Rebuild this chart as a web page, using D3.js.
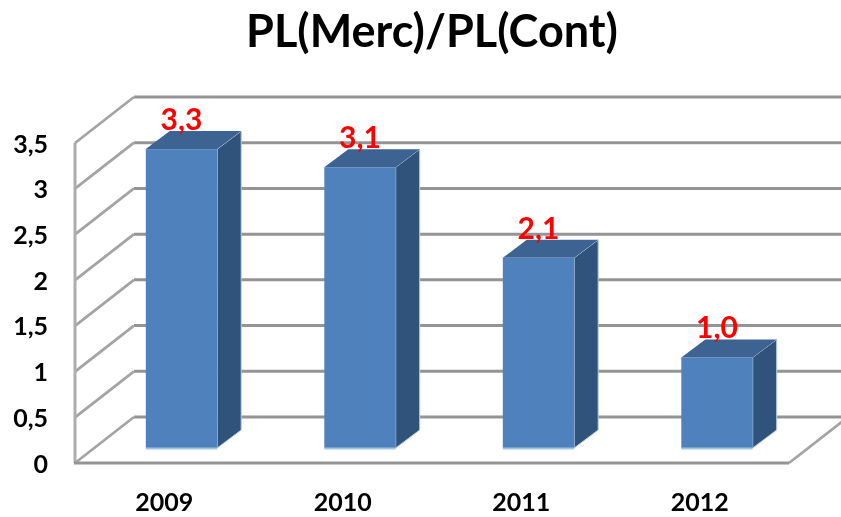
<!DOCTYPE html>
<html>
<head>
<meta charset="utf-8">
<script src="https://cdn.jsdelivr.net/npm/d3@7"></script>
<style>
  html, body { margin: 0; padding: 0; background: #fff; }
  svg { display: block; filter: blur(0.7px); }
  text { font-family: Lato, "Open Sans", sans-serif; }
  .axis path, .axis line { display: none; }
  .axis text { font-size: 25px; font-weight: 700; fill: #000; }
</style>
</head>
<body>
<script>
var years = ["2009", "2010", "2011", "2012"];
var ratios = [3.3, 3.1, 2.1, 1.0];
var yTicks = [0, 0.5, 1, 1.5, 2, 2.5, 3, 3.5];
var chartTitle = "PL(Merc)/PL(Cont)";

var w = 841, h = 517;
var depthX = 59, depthY = -46;     // floor depth, front edge to back wall
var barDepthX = 24, barDepthY = -18;

var svg = d3.select("body").append("svg")
  .attr("width", w)
  .attr("height", h);

var comma = d3.formatLocale({ decimal: ",", thousands: ".", grouping: [3], currency: ["", ""] });

var xScale = d3.scaleBand()
  .domain(years)
  .range([75, 789]);

// front edge of the chart box
var yScale = d3.scaleLinear()
  .domain([0, 3.5])
  .range([463, 143]);

// bars stand a bit behind the front edge so their scale is slightly smaller
var barY = d3.scaleLinear()
  .domain([0, 3.5])
  .range([448, 131]);

svg.append("text")
  .attr("x", 432)
  .attr("y", 47)
  .attr("text-anchor", "middle")
  .style("font-size", "45px")
  .style("font-weight", 700)
  .style("fill", "#000")
  .text(chartTitle);

// back wall lines, running off the right of the picture
svg.selectAll(".wall")
  .data(yTicks)
  .enter().append("line")
  .attr("class", "wall")
  .attr("x1", 75 + depthX)
  .attr("x2", w)
  .attr("y1", function(d) { return yScale(d) + depthY; })
  .attr("y2", function(d) { return yScale(d) + depthY; })
  .attr("stroke", "#949494")
  .attr("stroke-width", 3);

// side wall diagonals
svg.selectAll(".side")
  .data(yTicks)
  .enter().append("line")
  .attr("class", "side")
  .attr("x1", 75)
  .attr("x2", 75 + depthX)
  .attr("y1", function(d) { return yScale(d); })
  .attr("y2", function(d) { return yScale(d) + depthY; })
  .attr("stroke", "#a4a4a4")
  .attr("stroke-width", 2.8);

// left edge, front edge of the floor, right edge of the floor
svg.append("line")
  .attr("x1", 75).attr("x2", 75)
  .attr("y1", yScale(3.5)).attr("y2", yScale(0))
  .attr("stroke", "#adadad")
  .attr("stroke-width", 3);

svg.append("line")
  .attr("x1", 74).attr("x2", 789)
  .attr("y1", yScale(0)).attr("y2", yScale(0))
  .attr("stroke", "#949494")
  .attr("stroke-width", 3.2);

svg.append("line")
  .attr("x1", 789).attr("x2", 789 + depthX)
  .attr("y1", yScale(0)).attr("y2", yScale(0) + depthY)
  .attr("stroke", "#a4a4a4")
  .attr("stroke-width", 2.8);

var barX = function(d) { return xScale(d) + xScale.bandwidth() * 0.4 - 0.6; };
var barW = xScale.bandwidth() * 0.4;

var bars = svg.selectAll(".bar")
  .data(years)
  .enter().append("g")
  .attr("class", "bar");

// right side face
bars.append("path")
  .attr("fill", "#30537b")
  .attr("stroke", "#b9cde4")
  .attr("stroke-width", 1)
  .attr("d", function(d, i) {
    var x = barX(d) + barW, top = barY(ratios[i]), bottom = barY(0);
    return "M" + x + "," + top +
      "L" + (x + barDepthX) + "," + (top + barDepthY) +
      "L" + (x + barDepthX) + "," + (bottom + barDepthY) +
      "L" + x + "," + bottom + "Z";
  });

// top face
bars.append("path")
  .attr("fill", "#3c6392")
  .attr("d", function(d, i) {
    var x = barX(d), top = barY(ratios[i]);
    return "M" + x + "," + top +
      "L" + (x + barDepthX) + "," + (top + barDepthY) +
      "L" + (x + barW + barDepthX) + "," + (top + barDepthY) +
      "L" + (x + barW) + "," + top + "Z";
  });

// front face
bars.append("rect")
  .attr("x", barX)
  .attr("y", function(d, i) { return barY(ratios[i]); })
  .attr("width", barW)
  .attr("height", function(d, i) { return barY(0) - barY(ratios[i]); })
  .attr("fill", "#4f81bd");

// pale edge under the front face
bars.append("line")
  .attr("x1", barX)
  .attr("x2", function(d) { return barX(d) + barW; })
  .attr("y1", barY(0) + 0.5)
  .attr("y2", barY(0) + 0.5)
  .attr("stroke", "#a5c3e4")
  .attr("stroke-width", 2);

bars.append("text")
  .attr("x", function(d) { return barX(d) + barW / 2; })
  .attr("y", function(d, i) { return barY(ratios[i]) - 19; })
  .attr("text-anchor", "middle")
  .style("font-size", "30px")
  .style("font-weight", 700)
  .style("fill", "#ff0000")
  .text(function(d, i) { return comma.format(".1f")(ratios[i]); });

var yAxis = d3.axisLeft(yScale)
  .tickValues(yTicks)
  .tickFormat(comma.format("~g"))
  .tickSize(0)
  .tickPadding(0);

svg.append("g")
  .attr("class", "axis")
  .attr("transform", "translate(48,1)")
  .call(yAxis);

var xAxis = d3.axisBottom(xScale)
  .tickSize(0)
  .tickPadding(0);

svg.append("g")
  .attr("class", "axis")
  .attr("transform", "translate(0,493)")
  .call(xAxis);
</script>
</body>
</html>
